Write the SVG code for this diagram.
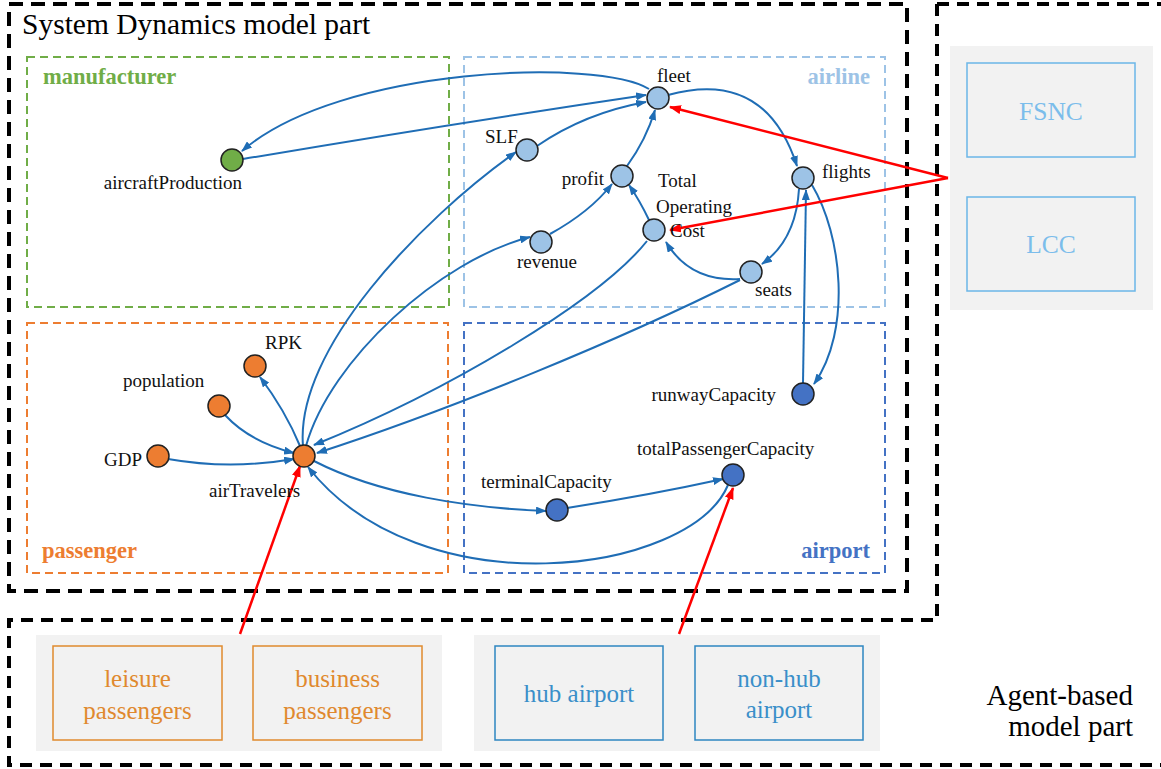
<svg xmlns="http://www.w3.org/2000/svg" width="1161" height="769" viewBox="0 0 1161 769">
<style>
text{font-family:"Liberation Serif","Times New Roman",serif;}
.lbl{font-size:19px;fill:#111;}
.region{fill:none;stroke-width:2;stroke-dasharray:8 5;}
.rt{font-size:22.5px;font-weight:bold;}
.node{stroke:#222;stroke-width:1.5;}
.c{fill:none;stroke:#1F6DB5;stroke-width:2;marker-end:url(#ab);}
.r{fill:none;stroke:#FF0000;stroke-width:2.5;marker-end:url(#ar);}
.panel{fill:#F2F2F2;}
.agent{fill:#F2F2F2;stroke-width:1.5;}
.at{font-size:25px;text-anchor:middle;}
</style>
<defs>
<marker id="ab" markerUnits="userSpaceOnUse" markerWidth="11" markerHeight="8" refX="10" refY="4" orient="auto"><path d="M0,0 L11,4 L0,8 z" fill="#1F6DB5"/></marker>
<marker id="ar" markerUnits="userSpaceOnUse" markerWidth="12" markerHeight="9" refX="11" refY="4.5" orient="auto"><path d="M0,0 L12,4.5 L0,9 z" fill="#FF0000"/></marker>
</defs>
<rect width="1161" height="769" fill="#fff"/>

<g id="frames">
<rect x="9" y="4" width="898" height="587" fill="none" stroke="#000" stroke-width="4" stroke-dasharray="14 8"/>
<path d="M937 4 H1165 M937 4 V620 H9 V765 H1165" fill="none" stroke="#000" stroke-width="4" stroke-dasharray="12 8"/>
<text x="22" y="34" font-size="29.5" fill="#000">System Dynamics model part</text>
<text x="1133" y="705" font-size="29" fill="#000" text-anchor="end">Agent-based</text>
<text x="1133" y="736" font-size="29" fill="#000" text-anchor="end">model part</text>
</g>

<g id="regions">
<rect class="region" x="27" y="57" width="422" height="250" stroke="#70AD47"/>
<text class="rt" x="43" y="84" fill="#70AD47">manufacturer</text>
<rect class="region" x="464" y="57" width="421" height="250" stroke="#9DC3E6"/>
<text class="rt" x="870" y="84" fill="#9DC3E6" text-anchor="end">airline</text>
<rect class="region" x="27" y="323" width="421" height="250" stroke="#ED7D31"/>
<text class="rt" x="42" y="558" fill="#ED7D31">passenger</text>
<rect class="region" x="464" y="323" width="421" height="250" stroke="#4472C4"/>
<text class="rt" x="870" y="558" fill="#4472C4" text-anchor="end">airport</text>
</g>

<g id="panels">
<rect class="panel" x="36" y="635" width="406" height="116"/>
<rect class="panel" x="474" y="635" width="406" height="116"/>
<rect class="panel" x="950" y="46" width="203" height="264"/>
</g>

<g id="leisure-passengers">
<rect class="agent" x="53" y="646" width="169" height="94" stroke="#E08A2E"/>
<text class="at" x="137.5" y="687" fill="#E0892E">leisure</text>
<text class="at" x="137.5" y="719" fill="#E0892E">passengers</text>
</g>
<g id="business-passengers">
<rect class="agent" x="253" y="646" width="169" height="94" stroke="#E08A2E"/>
<text class="at" x="337.5" y="687" fill="#E0892E">business</text>
<text class="at" x="337.5" y="719" fill="#E0892E">passengers</text>
</g>
<g id="hub-airport">
<rect class="agent" x="495" y="646" width="168" height="94" stroke="#2E86C1"/>
<text class="at" x="579" y="702" fill="#3A8FC9">hub airport</text>
</g>
<g id="non-hub-airport">
<rect class="agent" x="695" y="646" width="168" height="94" stroke="#2E86C1"/>
<text class="at" x="779" y="687" fill="#3A8FC9">non-hub</text>
<text class="at" x="779" y="718" fill="#3A8FC9">airport</text>
</g>
<g id="FSNC">
<rect class="agent" x="967" y="63" width="168" height="94" stroke="#6BB6E8"/>
<text x="1051" y="120" font-size="25.5" text-anchor="middle" fill="#7BBDEB">FSNC</text>
</g>
<g id="LCC">
<rect class="agent" x="967" y="197" width="168" height="94" stroke="#6BB6E8"/>
<text x="1051" y="253" font-size="25.5" text-anchor="middle" fill="#7BBDEB">LCC</text>
</g>

<g id="connectors">
<path class="c" d="M649 89 C600 58 340 66 242 151"/>
<path class="c" d="M243 159 Q450 124 646 95"/>
<path class="c" d="M303 446 C295 350 420 220 516 152"/>
<path class="c" d="M306 446 C330 360 440 260 530 237"/>
<path class="c" d="M537 146 Q585 113 646 102"/>
<path class="c" d="M627 166 Q646 140 655 110"/>
<path class="c" d="M550 234 Q590 212 612 184"/>
<path class="c" d="M649 220 Q640 201 629 185"/>
<path class="c" d="M740 279 Q690 282 666 242"/>
<path class="c" d="M799 189 Q796 240 762 264"/>
<path class="c" d="M668 95 Q765 68 797 166"/>
<path class="c" d="M803 383 L806 190"/>
<path class="c" d="M812 185 C842 235 852 330 814 384"/>
<path class="c" d="M647 241 C600 300 450 390 314 445"/>
<path class="c" d="M740 280 C620 340 450 410 317 453"/>
<path class="c" d="M314 461 C380 495 470 508 546 511"/>
<path class="c" d="M567 508 Q650 495 723 479"/>
<path class="c" d="M728 485 C690 575 420 610 308 467"/>
<path class="c" d="M225 415 Q250 442 294 453"/>
<path class="c" d="M168 459 Q230 470 294 459"/>
<path class="c" d="M300 446 Q285 410 260 377"/>
<path class="r" d="M948 178 L670 107"/>
<path class="r" d="M948 178 L670 230"/>
<path class="r" d="M240 634 L300 466"/>
<path class="r" d="M679 634 L733 488"/>
</g>

<g id="aircraftProduction"><circle class="node" cx="232" cy="160" r="11" fill="#70AD47"/><text class="lbl" x="242" y="189" text-anchor="end">aircraftProduction</text></g>
<g id="fleet"><circle class="node" cx="658" cy="98" r="11" fill="#9DC3E6"/><text class="lbl" x="657" y="82">fleet</text></g>
<g id="SLF"><circle class="node" cx="527" cy="150" r="11" fill="#9DC3E6"/><text class="lbl" x="485" y="143">SLF</text></g>
<g id="profit"><circle class="node" cx="622" cy="176" r="11" fill="#9DC3E6"/><text class="lbl" x="604" y="185" text-anchor="end">profit</text></g>
<g id="TotalOperatingCost"><circle class="node" cx="654" cy="230" r="11" fill="#9DC3E6"/><text class="lbl" x="658" y="187">Total</text><text class="lbl" x="656" y="213">Operating</text><text class="lbl" x="670" y="237">Cost</text></g>
<g id="flights"><circle class="node" cx="803" cy="178" r="11" fill="#9DC3E6"/><text class="lbl" x="822" y="178">flights</text></g>
<g id="seats"><circle class="node" cx="751" cy="272" r="11" fill="#9DC3E6"/><text class="lbl" x="755" y="296">seats</text></g>
<g id="revenue"><circle class="node" cx="541" cy="242" r="11" fill="#9DC3E6"/><text class="lbl" x="547" y="268" text-anchor="middle">revenue</text></g>
<g id="RPK"><circle class="node" cx="255" cy="366" r="11" fill="#ED7D31"/><text class="lbl" x="265" y="349">RPK</text></g>
<g id="population"><circle class="node" cx="219" cy="406" r="11" fill="#ED7D31"/><text class="lbl" x="123" y="387">population</text></g>
<g id="GDP"><circle class="node" cx="158" cy="456" r="11" fill="#ED7D31"/><text class="lbl" x="142" y="466" text-anchor="end">GDP</text></g>
<g id="airTravelers"><circle class="node" cx="304" cy="456" r="11" fill="#ED7D31"/><text class="lbl" x="209" y="497">airTravelers</text></g>
<g id="runwayCapacity"><circle class="node" cx="803" cy="394" r="11" fill="#4472C4"/><text class="lbl" x="776" y="401" text-anchor="end">runwayCapacity</text></g>
<g id="totalPassengerCapacity"><circle class="node" cx="733" cy="475" r="11" fill="#4472C4"/><text class="lbl" x="637" y="455">totalPassengerCapacity</text></g>
<g id="terminalCapacity"><circle class="node" cx="557" cy="510" r="11" fill="#4472C4"/><text class="lbl" x="481" y="488">terminalCapacity</text></g>
</svg>
